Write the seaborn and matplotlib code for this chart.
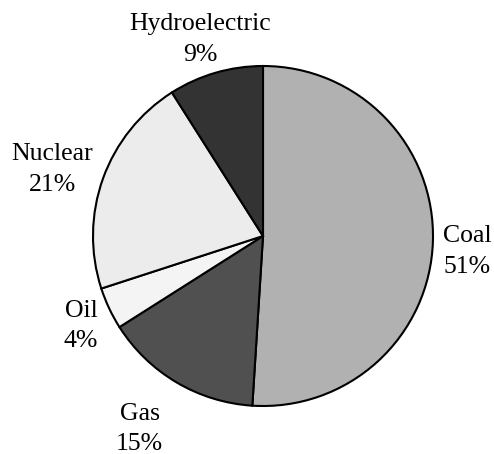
import matplotlib
matplotlib.use('Agg')
import numpy as np
import matplotlib.pyplot as plt
import seaborn as sns

sns.set_theme(style='white')
plt.rcParams['font.family'] = ['Liberation Serif', 'DejaVu Serif']

# energy sources, clockwise from 12 o'clock
sources = ['Coal', 'Gas', 'Oil', 'Nuclear', 'Hydroelectric']
shares = [51, 15, 4, 21, 9]
colors = ['#b1b1b1', '#505050', '#f4f4f4', '#ececec', '#333333']

# label placement: distance in pie radii, and nudge from the wedge middle (deg)
label_r = [1.203, 1.347, 1.195, 1.301, 1.215]
label_nudge = [-2.5, -2.0, 1.1, 2.3, 1.6]

labels = [f'{s}\n{v}%' for s, v in zip(sources, shares)]

fig = plt.figure(figsize=(4.94, 4.54), dpi=100)
ax = fig.add_axes([0, 0, 1, 1])

wedges, texts = ax.pie(shares, labels=labels, colors=colors, startangle=90,
                       counterclock=False,
                       wedgeprops=dict(edgecolor='black', linewidth=1.5),
                       textprops=dict(fontsize=18.5, color='black',
                                      linespacing=1.5))
for w, t, d, n in zip(wedges, texts, label_r, label_nudge):
    ang = np.deg2rad((w.theta1 + w.theta2) / 2 + n)
    t.set_position((d * np.cos(ang), d * np.sin(ang)))
    t.set_horizontalalignment('center')
    t.set_verticalalignment('center')

# centre at (263, 236) px, radius ~170 px
r = 170
ax.set_xlim(-263 / r, (494 - 263) / r)
ax.set_ylim(-(454 - 236) / r, 236 / r)
ax.set_aspect('equal')
ax.axis('off')

fig.savefig('out.png', dpi=100)
